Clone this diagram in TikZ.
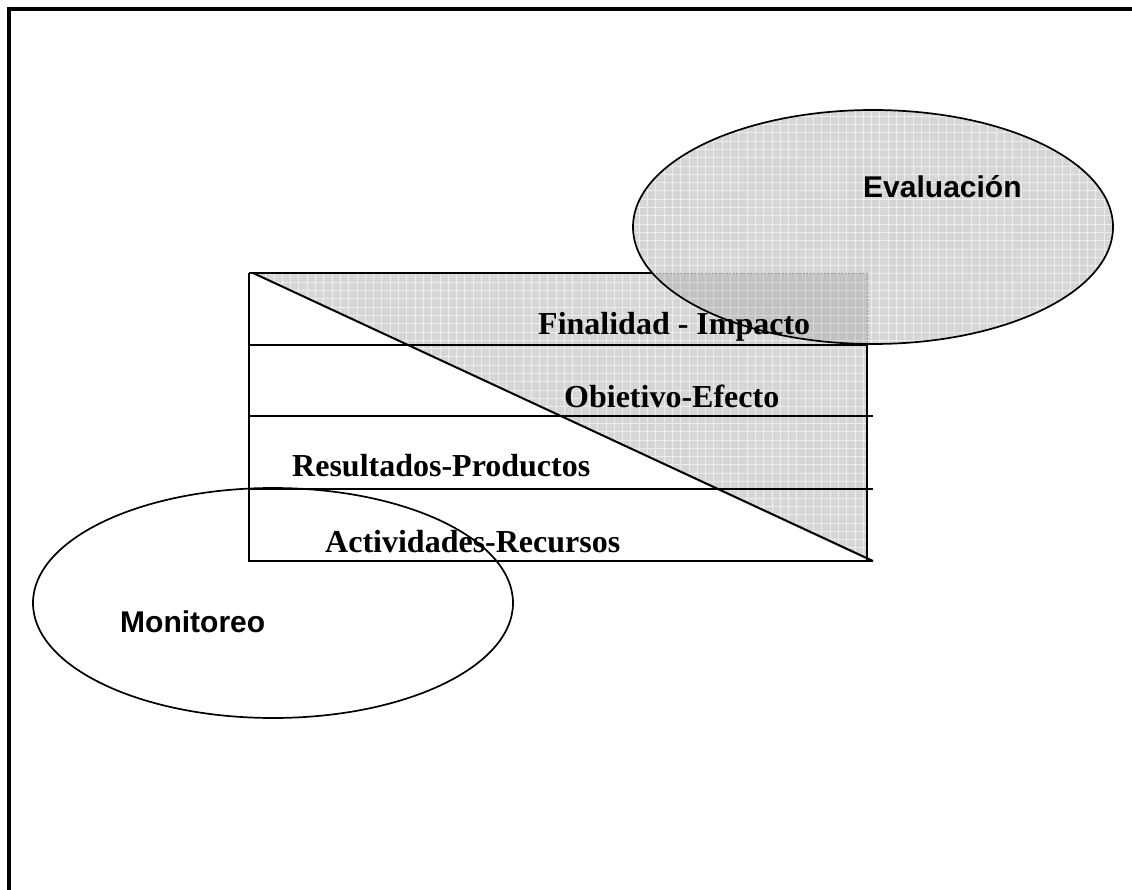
\documentclass[tikz,border=0pt]{standalone}
\usepackage{fontspec}
\setmainfont{Liberation Serif}
\newfontfamily\headsans{Liberation Sans}
\begin{document}
\begin{tikzpicture}[x=1pt,y=-1pt,
  frameline/.style={line width=3.2pt},
  rowline/.style={line width=2.4pt},
  ovalline/.style={line width=1.7pt},
  rowlabel/.style={anchor=base west, inner sep=0pt, font=\fontsize{32}{36}\selectfont\bfseries},
  ovallabel/.style={anchor=base west, inner sep=0pt, font=\fontsize{30}{34}\selectfont\headsans\bfseries},
  hatchfill/.style={fill=black!16},
  hatchgrid/.style={draw=black!7, line width=0.8pt}]
\useasboundingbox (0,0) rectangle (1132,890);

% outer frame, running past the page edges
\begin{scope}
  \clip (0,0) rectangle (1132,890);
  \draw[frameline] (9,900) -- (9,9) -- (1140,9);
\end{scope}

% corner points of the table and of the shaded triangle
\coordinate (tl) at (249,273);
\coordinate (dtop) at (253,273);
\coordinate (tr) at (867,273);
\coordinate (trbot) at (867,561);
\coordinate (dend) at (873,561);

% shaded triangle
\path[hatchfill] (dtop) -- (tr) -- (867,560) -- cycle;
\begin{scope}
  \clip (dtop) -- (tr) -- (867,560) -- cycle;
  \draw[hatchgrid, step=8.3pt] (245,100) grid (1125,575);
\end{scope}

% top edge and right edge of the table
\draw[rowline] (tl) -- (tr) -- (trbot);

% evaluation oval, filled with the same texture
\path[hatchfill] (873,227) ellipse [x radius=240, y radius=117];
\begin{scope}
  \clip (873,227) ellipse [x radius=240, y radius=117];
  \draw[hatchgrid, step=8.3pt] (245,100) grid (1125,575);
  \fill[black, opacity=0.09] (dtop) -- (tr) -- (867,560) -- cycle;
  \draw[black!40, dash pattern=on 2pt off 1.5pt, line width=0.8pt] (dtop) -- (tr) -- (867,350);
\end{scope}

% remaining table rules and the diagonal
\draw[rowline] (tl) -- (249,561) -- (dend);
\draw[rowline] (249,345) -- (867,345);
\draw[rowline] (249,416) -- (873,416);
\draw[rowline] (249,489) -- (873,489);
\draw[line width=2pt] (dtop) -- (dend);

% row labels
\node[rowlabel] (fin) at (538,335) {Finalidad - Impacto};
\node[rowlabel] (obj) at (564,407) {Obietivo-Efecto};
\node[rowlabel] (res) at (292,476) {Resultados-Productos};
\node[rowlabel] (act) at (325,552) {Actividades-Recursos};

% oval labels
\node[ovallabel] (eva) at (863,198) {Evaluación};
\node[ovallabel] (mon) at (120,632) {Monitoreo};

% oval outlines
\draw[ovalline] (873,227) ellipse [x radius=240, y radius=117];
\draw[ovalline] (273,603) ellipse [x radius=240, y radius=115];
\end{tikzpicture}
\end{document}
